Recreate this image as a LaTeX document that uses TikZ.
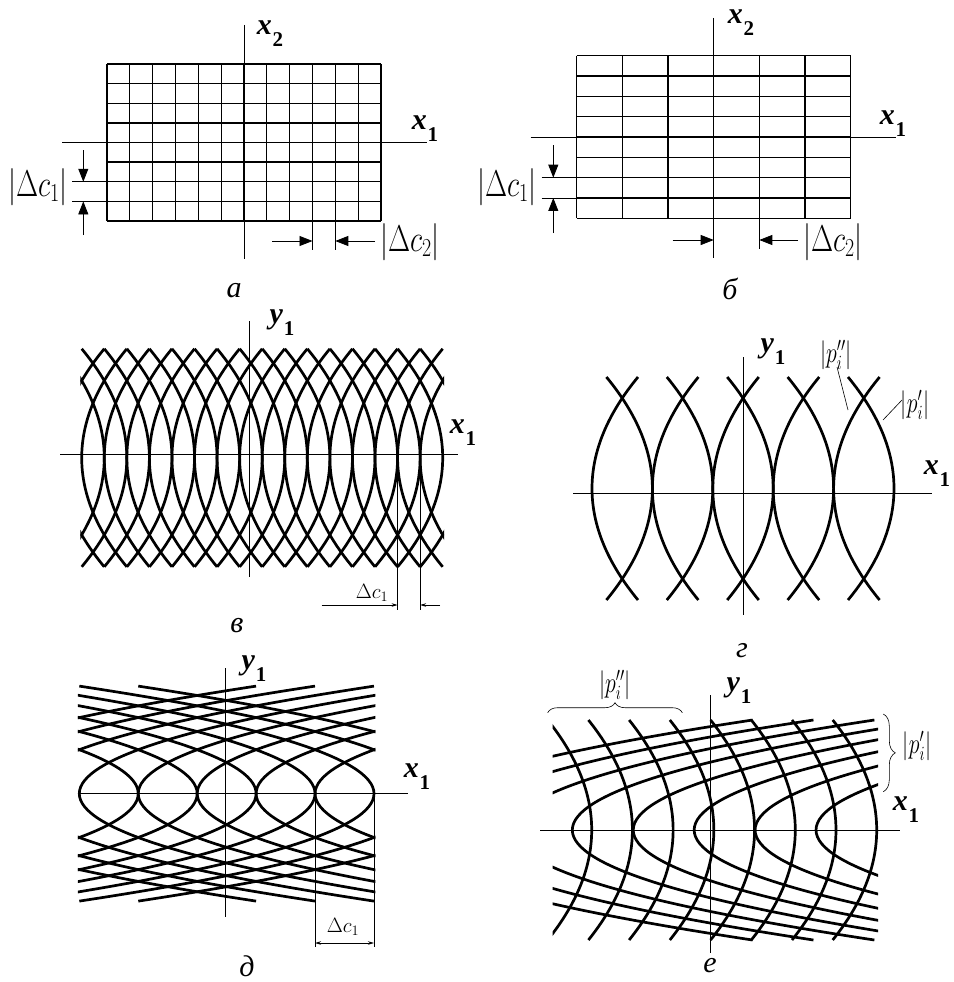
\documentclass[tikz,border=0pt]{standalone}
\usepackage{fontspec}
\setmainfont{Liberation Serif}
\usepackage{graphicx}
\usepackage{tikz}
\usetikzlibrary{arrows.meta,decorations.pathreplacing}

\newcommand{\axlab}[2]{\textbf{\textit{#1}}\kern0.03em\raisebox{-0.4em}{\fontsize{21}{22}\selectfont\textbf{#2}}}
\newcommand{\vstretch}[1]{\scalebox{1.05}[1.4]{$#1$}}
\newcommand{\dimtext}[1]{\scalebox{1.15}[1.5]{$#1$}}

\begin{document}
\begin{tikzpicture}[x=1pt,y=-1pt,
  gridline/.style={line width=1.3pt},
  axis/.style={line width=0.8pt},
  fringe/.style={line width=2.7pt,line join=round},
  dimline/.style={line width=0.8pt},
  bigtip/.style={-{Triangle[length=13pt,width=10pt]}},
  smalltip/.style={-{Stealth[length=6pt,width=3.5pt]}},
  axname/.style={font=\fontsize{30}{32}\selectfont},
  panel/.style={font=\fontsize{30}{32}\selectfont\itshape},
  dimlab/.style={font=\fontsize{25}{28}\selectfont},
  smalllab/.style={font=\fontsize{20}{22}\selectfont},
  plab/.style={font=\fontsize{20}{22}\selectfont}
]
\useasboundingbox (0,0) rectangle (953,982);

% a
\foreach \i in {0,...,12} \draw[gridline] ({107+\i*22.833},64) -- ({107+\i*22.833},221);
\foreach \j in {0,...,8} \draw[gridline] (107,{64+\j*19.625}) -- (381,{64+\j*19.625});
\draw[axis] (244,25) -- (244,259);
\draw[axis] (62,142.5) -- (427,142.5);
\node[axname] (ax2a) at (270,34) {\axlab{x}{2}};
\node[axname] (ax1a) at (425,129) {\axlab{x}{1}};
\draw[dimline] (72,181.75) -- (107,181.75);
\draw[dimline] (72,201.4) -- (107,201.4);
\draw[dimline,bigtip] (83.3,150) -- (83.3,181.75);
\draw[dimline,bigtip] (83.3,235) -- (83.3,201.4);
\node[dimlab] (dc1a) at (38,187) {\dimtext{\left|\Delta c_1\right|}};
\draw[dimline] (312.5,221) -- (312.5,250);
\draw[dimline] (335.3,221) -- (335.3,250);
\draw[dimline,bigtip] (272,241) -- (312.5,241);
\draw[dimline,bigtip] (375,241) -- (335.3,241);
\node[dimlab] (dc2a) at (410,242) {\dimtext{\left|\Delta c_2\right|}};
\node[panel] (pa) at (234,291) {а};

% b
\foreach \i in {0,...,6} \draw[gridline] ({576.7+\i*45.667},55.7) -- ({576.7+\i*45.667},218.3);
\foreach \j in {0,...,8} \draw[gridline] (576.7,{55.7+\j*20.325}) -- (850.7,{55.7+\j*20.325});
\draw[axis] (713.7,18) -- (713.7,258);
\draw[axis] (530.7,137) -- (896,137);
\node[axname] (ax2b) at (741,23) {\axlab{x}{2}};
\node[axname] (ax1b) at (893,124) {\axlab{x}{1}};
\draw[dimline] (541.7,177.65) -- (576.7,177.65);
\draw[dimline] (541.7,197.98) -- (576.7,197.98);
\draw[dimline,bigtip] (553.3,145) -- (553.3,177.65);
\draw[dimline,bigtip] (553.3,233) -- (553.3,197.98);
\node[dimlab] (dc1b) at (507,187) {\dimtext{\left|\Delta c_1\right|}};
\draw[dimline] (759.3,218.3) -- (759.3,249);
\draw[dimline,bigtip] (672.7,240) -- (713.7,240);
\draw[dimline,bigtip] (798,240) -- (759.3,240);
\node[dimlab] (dc2b) at (833,242) {\dimtext{\left|\Delta c_2\right|}};
\node[panel] (pb) at (730,289) {б};

% v
\begin{scope}
  \clip (80.4,340) rectangle (444,575);
  \foreach \k in {1,...,17} {
    \pgfmathsetmacro\xv{81.7+\k*22.5625}
    \draw[fringe] (\xv-45.1,348.8) .. controls (\xv+15.03,421.47) and (\xv+15.03,494.13) .. (\xv-45.1,566.8);
  }
  \foreach \k in {-1,...,15} {
    \pgfmathsetmacro\xv{81.7+\k*22.5625}
    \draw[fringe] (\xv+45.1,348.8) .. controls (\xv-15.03,421.47) and (\xv-15.03,494.13) .. (\xv+45.1,566.8);
  }
\end{scope}
\draw[axis] (60,454.3) -- (458,454.3);
\draw[axis] (249.3,321) -- (249.3,577);
\node[axname] (ay1v) at (282,323) {\axlab{y}{1}};
\node[axname] (ax1v) at (463,433) {\axlab{x}{1}};
\draw[dimline] (397.6,457) -- (397.6,610);
\draw[dimline] (420.1,457) -- (420.1,610);
\draw[dimline,smalltip] (321.7,605) -- (397.6,605);
\draw[dimline,smalltip] (440,605) -- (420.1,605);
\node[smalllab] (dc1v) at (372,593) {$\Delta c_1$};
\node[panel] (pv) at (237,626) {в};

% g
\foreach \k in {1,...,5} {
  \pgfmathsetmacro\xv{592+\k*60.4}
  \draw[fringe] (\xv-46,377) .. controls (\xv+15.33,451.33) and (\xv+15.33,525.67) .. (\xv-46,600);
}
\foreach \k in {0,...,4} {
  \pgfmathsetmacro\xv{592+\k*60.4}
  \draw[fringe] (\xv+46,377) .. controls (\xv-15.33,451.33) and (\xv-15.33,525.67) .. (\xv+46,600);
}
\draw[axis] (573,493) -- (932,493);
\draw[axis] (743,357) -- (743,615);
\node[axname] (ay1g) at (773,352) {\axlab{y}{1}};
\node[axname] (ax1g) at (937,474) {\axlab{x}{1}};
\node[plab] (p2g) at (836,355) {\vstretch{\left|p''_i\right|}};
\node[plab] (p1g) at (915,405) {\vstretch{\left|p'_i\right|}};
\draw[line width=0.6pt] (837,367) -- (848,410);
\draw[line width=0.6pt] (902,400) -- (883,420);
\node[panel] (pg) at (742,651) {г};

% d
\begin{scope}
  \clip (77.9,670) rectangle (375.4,920);
  \foreach \k in {1,...,7} {
    \pgfmathsetmacro\xv{79.3+\k*58.94}
    \draw[fringe] (\xv-353.6,686.1) .. controls (\xv+117.87,757.77) and (\xv+117.87,829.43) .. (\xv-353.6,901.1);
  }
  \foreach \k in {-3,...,4} {
    \pgfmathsetmacro\xv{79.3+\k*58.94}
    \draw[fringe] (\xv+353.6,686.1) .. controls (\xv-117.87,757.77) and (\xv-117.87,829.43) .. (\xv+353.6,901.1);
  }
\end{scope}
\draw[axis] (79,793.3) -- (408,793.3);
\draw[axis] (225.7,668) -- (225.7,917);
\node[axname] (ay1d) at (254,669) {\axlab{y}{1}};
\node[axname] (ax1d) at (417,777) {\axlab{x}{1}};
\draw[dimline] (315,793) -- (315,947);
\draw[dimline] (374,793) -- (374,947);
\draw[dimline,{Stealth[length=6pt,width=3.5pt]}-{Stealth[length=6pt,width=3.5pt]}] (315,943) -- (374,943);
\node[smalllab] (dc1d) at (343,927) {$\Delta c_1$};
\node[panel] (pd) at (247,966) {д};

% e
\begin{scope}
  \clip (552.7,700) rectangle (878.2,960);
  \foreach \k in {0,...,7} {
    \pgfmathsetmacro\xv{591.7+\k*40.714}
    \draw[fringe] (\xv-44,720) .. controls (\xv+14.67,793.33) and (\xv+14.67,866.67) .. (\xv-44,940);
  }
  \foreach \k in {-3,...,4} {
    \pgfmathsetmacro\xv{572.3+\k*60.93}
    \draw[fringe] (\xv+363,720) .. controls (\xv-121,793.33) and (\xv-121,866.67) .. (\xv+363,940);
  }
\end{scope}
\draw[axis] (540,830) -- (900,830);
\draw[axis] (710.7,695) -- (710.7,953);
\node[axname] (ay1e) at (739,691) {\axlab{y}{1}};
\node[axname] (ax1e) at (906,810) {\axlab{x}{1}};
\draw[line width=0.6pt,decorate,decoration={brace,amplitude=10pt}] (547.7,712.7) -- (682.3,712.7);
\draw[line width=0.6pt,decorate,decoration={brace,amplitude=12pt}] (883.3,714) -- (883.3,791.7);
\node[plab] (p2e) at (615,685) {\vstretch{\left|p''_i\right|}};
\node[plab] (p1e) at (917,746) {\vstretch{\left|p'_i\right|}};
\node[panel] (pe) at (710,966) {е};
\end{tikzpicture}
\end{document}
